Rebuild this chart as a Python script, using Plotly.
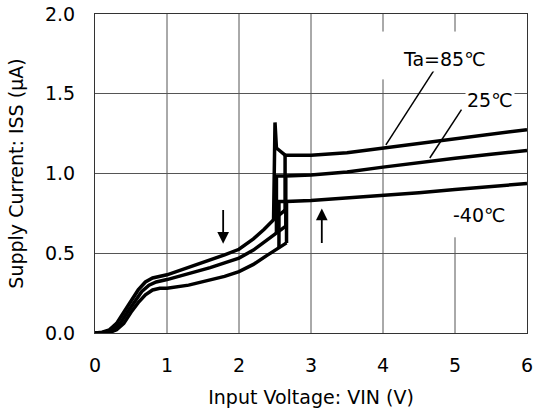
import plotly.graph_objects as go

# ---------------- data ----------------
# low branch (VIN rising from 0) for each temperature
x_low_85 = [0.0, 0.1, 0.2, 0.3, 0.4, 0.5, 0.6, 0.7, 0.8, 1.0, 1.3, 1.6, 1.8, 2.0, 2.2, 2.35, 2.48, 2.64]
y_low_85 = [0.0, 0.005, 0.02, 0.06, 0.13, 0.2, 0.27, 0.32, 0.345, 0.365, 0.41, 0.455, 0.49, 0.525, 0.59, 0.65, 0.71, 0.77]
x_low_25 = [0.0, 0.15, 0.25, 0.35, 0.45, 0.55, 0.65, 0.75, 0.85, 1.0, 1.3, 1.6, 1.8, 2.0, 2.2, 2.4, 2.52, 2.65]
y_low_25 = [0.0, 0.003, 0.02, 0.06, 0.13, 0.2, 0.26, 0.3, 0.32, 0.335, 0.37, 0.41, 0.44, 0.47, 0.52, 0.585, 0.625, 0.67]
x_low_m40 = [0.0, 0.2, 0.3, 0.4, 0.5, 0.6, 0.7, 0.8, 0.9, 1.0, 1.3, 1.6, 1.8, 2.0, 2.2, 2.4, 2.55, 2.66]
y_low_m40 = [0.0, 0.003, 0.02, 0.06, 0.13, 0.19, 0.24, 0.27, 0.28, 0.28, 0.3, 0.33, 0.355, 0.385, 0.43, 0.49, 0.535, 0.565]

# high branch (after detector release) for each temperature
x_high_85 = [2.64, 2.64, 2.75, 3.0, 3.5, 4.0, 4.5, 5.0, 5.5, 6.0]
y_high_85 = [0.77, 1.115, 1.115, 1.115, 1.13, 1.16, 1.19, 1.215, 1.245, 1.275]
x_high_25 = [2.65, 2.65, 3.0, 3.5, 4.0, 4.5, 5.0, 5.5, 6.0]
y_high_25 = [0.67, 0.985, 0.99, 1.01, 1.04, 1.07, 1.095, 1.12, 1.145]
x_high_m40 = [2.66, 2.66, 3.0, 3.5, 4.0, 4.5, 5.0, 5.5, 6.0]
y_high_m40 = [0.565, 0.825, 0.83, 0.845, 0.86, 0.88, 0.9, 0.92, 0.937]

# falling (VIN decreasing) transition for each temperature
x_fall_85 = [2.64, 2.52, 2.50, 2.48]
y_fall_85 = [1.115, 1.16, 1.32, 0.71]
x_fall_25 = [2.65, 2.52, 2.52]
y_fall_25 = [0.985, 0.985, 0.625]
x_fall_m40 = [2.66, 2.555, 2.555]
y_fall_m40 = [0.825, 0.825, 0.535]

temp_labels = ["Ta=85℃", "25℃", "-40℃"]
label_x = [4.86, 5.49, 5.33]
label_y = [1.715, 1.46, 0.74]

x_ticks = [0, 1, 2, 3, 4, 5, 6]
x_tick_text = ["0", "1", "2", "3", "4", "5", "6"]
y_ticks = [0.0, 0.5, 1.0, 1.5, 2.0]
y_tick_text = ["0.0", "0.5", "1.0", "1.5", "2.0"]

FONT = "DejaVu Sans, Liberation Sans, Arial, sans-serif"
LINE = dict(color="black", width=3.5)

fig = go.Figure()
for xs, ys in [(x_low_85, y_low_85), (x_high_85, y_high_85), (x_fall_85, y_fall_85),
               (x_low_25, y_low_25), (x_high_25, y_high_25), (x_fall_25, y_fall_25),
               (x_low_m40, y_low_m40), (x_high_m40, y_high_m40), (x_fall_m40, y_fall_m40)]:
    fig.add_trace(go.Scatter(x=xs, y=ys, mode="lines", line=LINE,
                             showlegend=False, hoverinfo="skip"))

# vertical grid lines (some segments are hidden in the reference)
grid = dict(color="#555555", width=1)
for gx in [1, 2, 3]:
    fig.add_shape(type="line", x0=gx, x1=gx, y0=0, y1=2, line=grid, layer="below")
fig.add_shape(type="line", x0=4, x1=4, y0=0, y1=1.59, line=grid, layer="below")
fig.add_shape(type="line", x0=4, x1=4, y0=1.89, y1=2, line=grid, layer="below")
fig.add_shape(type="line", x0=5, x1=5, y0=0, y1=0.6, line=grid, layer="below")
fig.add_shape(type="line", x0=5, x1=5, y0=1.89, y1=2, line=grid, layer="below")

# leader lines for the labels
lead = dict(color="black", width=1.5)
fig.add_shape(type="line", x0=4.77, y0=1.69, x1=4.04, y1=1.18, line=lead)
fig.add_shape(type="line", x0=5.09, y0=1.40, x1=4.65, y1=1.097, line=lead)

# labels
for t, lx, ly in zip(temp_labels, label_x, label_y):
    fig.add_annotation(x=lx, y=ly, text=t, showarrow=False, bgcolor="white",
                       font=dict(family=FONT, size=19, color="black"))

# direction arrows
fig.add_annotation(x=1.78, y=0.56, ax=1.78, ay=0.78, axref="x", ayref="y",
                   text="", showarrow=True, arrowhead=2, arrowsize=1.3,
                   arrowwidth=1.8, arrowcolor="black")
fig.add_annotation(x=3.15, y=0.78, ax=3.15, ay=0.555, axref="x", ayref="y",
                   text="", showarrow=True, arrowhead=2, arrowsize=1.3,
                   arrowwidth=1.8, arrowcolor="black")

fig.update_xaxes(range=[0, 6], tickvals=x_ticks, ticktext=x_tick_text,
                 showgrid=False, zeroline=False, showline=True, mirror=True,
                 linecolor="#333333", linewidth=1, ticks="",
                 ticklabelstandoff=15, ticklabeloverflow="allow",
                 tickfont=dict(family=FONT, size=19, color="black"),
                 title=dict(text="Input Voltage: VIN (V)", standoff=15,
                            font=dict(family=FONT, size=19, color="black")))
fig.update_yaxes(range=[0, 2], tickvals=y_ticks, ticktext=y_tick_text,
                 showgrid=True, gridcolor="#555555", gridwidth=1,
                 zeroline=False, showline=True, mirror=True,
                 linecolor="#333333", linewidth=1, ticks="",
                 ticklabelstandoff=15, ticklabeloverflow="allow",
                 tickfont=dict(family=FONT, size=19, color="black"),
                 title=dict(text="Supply Current: ISS (μA)", standoff=16,
                            font=dict(family=FONT, size=19, color="black")))

fig.update_layout(width=534, height=414,
                  margin=dict(l=95, r=7, t=14, b=81, autoexpand=False),
                  paper_bgcolor="white", plot_bgcolor="white")

fig.write_html("out.html", config={"displayModeBar": False},
               post_script="document.body.style.margin='0';"
                           "document.body.style.overflow='hidden';")
